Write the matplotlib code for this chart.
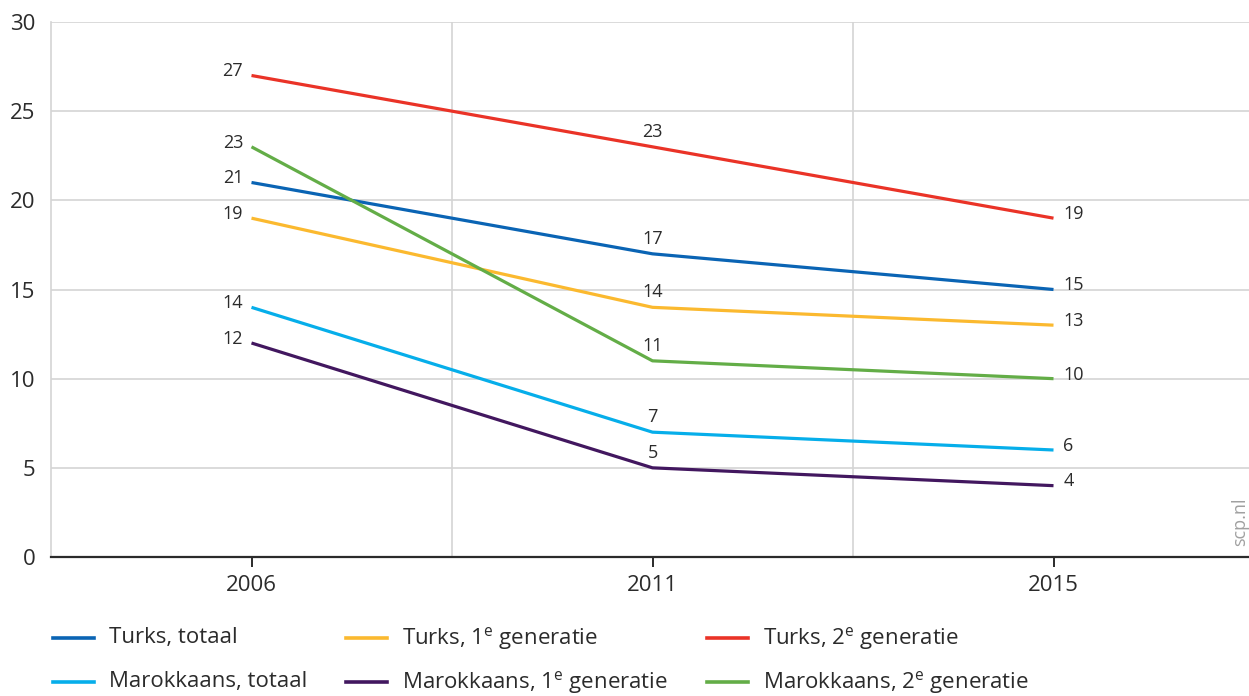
import matplotlib.pyplot as plt
from matplotlib.lines import Line2D

plt.rcParams['font.family'] = ['Open Sans', 'DejaVu Sans']

# jaren en percentages per groep
years = ['2006', '2011', '2015']
turks_totaal = [21, 17, 15]
turks_1e = [19, 14, 13]
turks_2e = [27, 23, 19]
marok_totaal = [14, 7, 6]
marok_1e = [12, 5, 4]
marok_2e = [23, 11, 10]

series = [
    ('Turks, totaal', turks_totaal, '#0a64b4'),
    ('Turks, 1$^{\\mathrm{e}}$ generatie', turks_1e, '#fbb92f'),
    ('Turks, 2$^{\\mathrm{e}}$ generatie', turks_2e, '#ea3327'),
    ('Marokkaans, totaal', marok_totaal, '#06aeea'),
    ('Marokkaans, 1$^{\\mathrm{e}}$ generatie', marok_1e, '#42175f'),
    ('Marokkaans, 2$^{\\mathrm{e}}$ generatie', marok_2e, '#63ad47'),
]

txt = '#2b2b2b'
grid = '#d4d4d4'
plt.rcParams['mathtext.fontset'] = 'custom'
plt.rcParams['mathtext.rm'] = 'Open Sans'

fig = plt.figure(figsize=(12.49, 6.96), dpi=100)
# rechterrand valt net buiten het beeld
ax = fig.add_axes([51 / 1249, 139 / 696, 1203 / 1249, 535 / 696])

x = list(range(len(years)))
for name, vals, col in series:
    ax.plot(x, vals, color=col, lw=2.3, solid_capstyle='butt')
    ax.annotate(str(vals[0]), (0, vals[0]), xytext=(-6, 3), textcoords='offset points',
                ha='right', va='center', fontsize=13, color=txt)
    ax.annotate(str(vals[1]), (1, vals[1]), xytext=(0, 11), textcoords='offset points',
                ha='center', va='center', fontsize=13, color=txt)
    ax.annotate(str(vals[2]), (2, vals[2]), xytext=(7, 3), textcoords='offset points',
                ha='left', va='center', fontsize=13, color=txt)

ax.set_xlim(-0.5, 2.5)
ax.set_ylim(0, 30)
ax.set_yticks(range(0, 31, 5))
ax.set_xticks(x)
ax.set_xticklabels(years)
ax.yaxis.grid(True, color=grid, lw=1.2)
for xv in (0.5, 1.5):
    ax.axvline(xv, color=grid, lw=1.2, zorder=0)
ax.set_axisbelow(True)

for s in ('top', 'right'):
    ax.spines[s].set_visible(False)
ax.spines['left'].set_color(grid)
ax.spines['left'].set_linewidth(1.2)
ax.spines['bottom'].set_color('#2b2b2b')
ax.spines['bottom'].set_linewidth(1.6)
ax.tick_params(axis='y', length=0, pad=11, labelsize=16, labelcolor=txt)
ax.tick_params(axis='x', length=7, width=1.4, color='#2b2b2b', pad=6,
               labelsize=16, labelcolor=txt)

fig.text(1240 / 1249, 1 - 522 / 696, 'scp.nl', rotation=90, ha='center', va='center',
         fontsize=13, color='#a0a0a0')

# legenda in drie kolommen
col_x = [53, 346, 707]
row_y = [638, 682]
for i, (name, vals, col) in enumerate(series):
    cx = col_x[i % 3]
    cy = 1 - row_y[i // 3] / 696
    fig.add_artist(Line2D([cx / 1249, (cx + 41) / 1249], [cy, cy], color=col, lw=2.6,
                          transform=fig.transFigure))
    fig.text((cx + 56) / 1249, cy, name, ha='left', va='center', fontsize=16, color=txt)

fig.savefig('out.png', dpi=100)
